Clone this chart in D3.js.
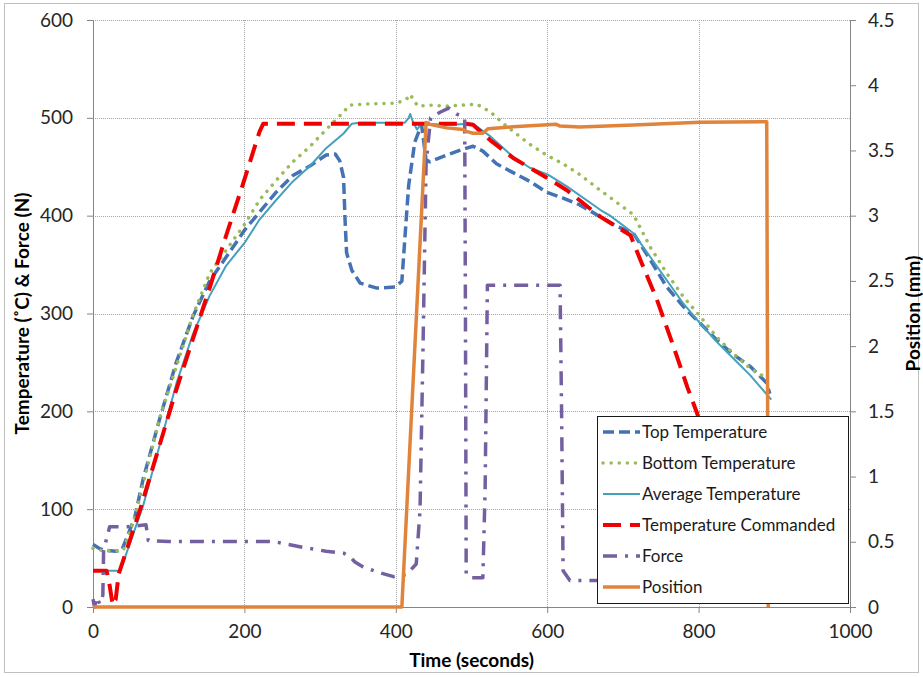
<!DOCTYPE html>
<html>
<head>
<meta charset="utf-8">
<script src="https://cdn.jsdelivr.net/npm/d3@7/dist/d3.min.js"></script>
<style>
  html, body { margin: 0; padding: 0; background: #fff; }
  svg { display: block; }
  text { font-family: Lato, "Open Sans", sans-serif; }
</style>
</head>
<body>
<svg id="chart" width="923" height="677"></svg>
<script>
// ---------- data (time in seconds, value) ----------
const topTemperature = [
  [0,64],[8,60],[15,58],[30,57],[38,58],[55,91],[66,130],[88,192],[110,250],[132,297],[154,333],
  [201,386],[242,424],[264,441],[287,451],[308,462],[320,463],[326,456],[331,439],[333,395],
  [335,362],[342,344],[353,331],[375,326],[399,327],[408,333],[412,377],[417,431],[425,475],
  [434,493],[440,457],[445,455],[467,462],[489,468],[502,471],[515,466],[533,453],[555,444],
  [577,435],[599,424],[621,418],[643,411],[670,399],[692,389],[714,382],[736,355],[758,327],
  [780,307],[802,290],[824,273],[846,258],[868,246],[890,229],[894,218]
];
const bottomTemperature = [
  [0,60],[10,58],[30,57],[40,58],[55,91],[88,193],[132,298],[154,341],[201,392],[220,416],
  [242,436],[264,455],[287,471],[308,488],[331,506],[339,513],[357,514],[401,515],[414,519],
  [419,524],[423,519],[429,512],[445,513],[467,512],[489,513],[507,514],[525,506],[544,493],
  [562,482],[577,473],[599,462],[621,453],[643,442],[670,426],[714,401],[736,368],[758,341],
  [780,317],[802,297],[824,276],[846,259],[868,244],[890,234]
];
const averageTemperature = [
  [0,37],[36,37],[66,103],[88,165],[110,228],[132,279],[154,318],[176,349],[201,373],[220,396],
  [242,416],[264,435],[287,451],[308,469],[331,484],[342,494],[352,495],[412,495],[417,500],
  [419,504],[422,497],[428,488],[432,492],[438,494],[467,493],[502,494],[525,481],[555,460],
  [577,449],[601,442],[626,430],[670,406],[683,400],[714,382],[736,358],[758,334],[780,310],
  [802,290],[824,271],[846,254],[868,237],[896,212]
];
const temperatureCommanded = [
  [0,37],[18,37],[22,22],[26,2],[30,8],[34,34],[62,99],[110,222],[154,326],[176,380],[198,432],
  [220,486],[225,494],[493,494],[502,493],[525,477],[555,459],[577,449],[599,439],[626,426],
  [670,399],[710,380],[723,355],[745,314],[767,266],[785,225],[798,198],[805,180]
];
const force = [
  [0,8],[2,0],[5,10],[9,3],[13,12],[14,58],[18,70],[22,82],[45,82],[70,84],[73,68],[100,67],
  [238,67],[277,61],[308,57],[331,55],[339,52],[346,46],[357,41],[379,35],[397,31],[414,33],
  [427,44],[432,99],[436,267],[440,453],[446,500],[459,506],[470,510],[480,504],[491,500],
  [492,300],[493,33],[500,30],[515,30],[518,120],[521,329],[617,329],[619,200],[621,37],
  [630,27],[680,27]
];
const position = [
  [0,0],[408,0],[440,3.714],[445,3.70],[467,3.673],[489,3.66],[493,3.646],[502,3.632],
  [515,3.632],[522,3.667],[555,3.681],[612,3.70],[617,3.687],[643,3.68],[714,3.695],
  [802,3.716],[890,3.72],[892,0]
];

const xTicks = [0,200,400,600,800,1000];
const yLeftTicks = [0,100,200,300,400,500,600];
const yRightTicks = [0,0.5,1,1.5,2,2.5,3,3.5,4,4.5];
const yRightTickLabels = ["0","0.5","1","1.5","2","2.5","3","3.5","4","4.5"];

const seriesNames = ["Top Temperature","Bottom Temperature","Average Temperature","Temperature Commanded","Force","Position"];

// ---------- styles ----------
const styles = {
  "Top Temperature":       {color:"#4472B4", width:3.5, dash:"11,5", cap:"butt"},
  "Bottom Temperature":    {color:"#9BBB59", width:3.5, dash:"0.1,8", cap:"round"},
  "Average Temperature":   {color:"#45A0BC", width:2,   dash:null,   cap:"butt"},
  "Temperature Commanded": {color:"#F00000", width:4,   dash:"18,9", cap:"butt"},
  "Force":                 {color:"#7460A0", width:3.5, dash:"14,8,3,8", cap:"butt"},
  "Position":              {color:"#E0843C", width:3.5, dash:null,   cap:"butt"}
};

const svg = d3.select("#chart");
const L = 93, R = 850, T = 20, B = 607;
const x = d3.scaleLinear().domain([0,1000]).range([L,R]);
const yL = d3.scaleLinear().domain([0,600]).range([B,T]);
const yR = d3.scaleLinear().domain([0,4.5]).range([B,T]);

// outer border
svg.append("rect").attr("x",4.5).attr("y",3.5).attr("width",914).attr("height",669)
  .attr("fill","#fff").attr("stroke","#C0C0C0").attr("stroke-width",1);

// gridlines
const grid = svg.append("g");
grid.selectAll("line.h").data(yLeftTicks.filter(d=>d>0)).join("line")
  .attr("x1",L).attr("x2",R).attr("y1",d=>Math.round(yL(d))+0.5).attr("y2",d=>Math.round(yL(d))+0.5)
  .attr("stroke","#A6A6A6").attr("stroke-width",1).attr("stroke-dasharray","1,1");
grid.selectAll("line.v").data(xTicks.filter(d=>d>0 && d<1000)).join("line")
  .attr("y1",T).attr("y2",B).attr("x1",d=>Math.round(x(d))+0.5).attr("x2",d=>Math.round(x(d))+0.5)
  .attr("stroke","#A6A6A6").attr("stroke-width",1).attr("stroke-dasharray","1,1");

// axes
const axisColor = "#868686";
const fontSize = 19;
const gx = svg.append("g").attr("transform",`translate(0,${B})`)
  .call(d3.axisBottom(x).tickValues(xTicks).tickSize(6).tickPadding(12).tickFormat(d3.format("d")));
const gyl = svg.append("g").attr("transform",`translate(${L},0)`)
  .call(d3.axisLeft(yL).tickValues(yLeftTicks).tickSize(6).tickPadding(14).tickFormat(d3.format("d")));
const gyr = svg.append("g").attr("transform",`translate(${R},0)`)
  .call(d3.axisRight(yR).tickValues(yRightTicks).tickSize(6).tickPadding(12).tickFormat((d,i)=>yRightTickLabels[i]));
[gx,gyl,gyr].forEach(g=>{
  g.select(".domain").attr("stroke",axisColor).attr("stroke-width",1);
  g.selectAll(".tick line").attr("stroke",axisColor);
  g.selectAll("text").attr("font-size",fontSize).attr("fill","#262626")
    .attr("font-family","Lato, 'Open Sans', sans-serif");
});

// series lines
const lineL = d3.line().x(d=>x(d[0])).y(d=>yL(d[1]));
const lineR = d3.line().x(d=>x(d[0])).y(d=>yR(d[1]));
const data = {
  "Top Temperature": topTemperature,
  "Bottom Temperature": bottomTemperature,
  "Average Temperature": averageTemperature,
  "Temperature Commanded": temperatureCommanded,
  "Force": force,
  "Position": position
};
const plot = svg.append("g");
seriesNames.forEach(name=>{
  const s = styles[name];
  plot.append("path").datum(data[name])
    .attr("d", name==="Position" ? lineR : lineL)
    .attr("fill","none").attr("stroke",s.color).attr("stroke-width",s.width)
    .attr("stroke-dasharray",s.dash).attr("stroke-linecap",s.cap).attr("stroke-linejoin","round");
});

// axis titles
svg.append("text").attr("transform",`translate(29,${(T+B)/2}) rotate(-90)`)
  .attr("text-anchor","middle").attr("font-size",19).attr("font-weight","bold").attr("fill","#000")
  .text("Temperature (˚C) & Force (N)");
svg.append("text").attr("transform",`translate(920,${(T+B)/2}) rotate(-90)`)
  .attr("text-anchor","middle").attr("font-size",19).attr("font-weight","bold").attr("fill","#000")
  .text("Position (mm)");
svg.append("text").attr("x",(L+R)/2).attr("y",667)
  .attr("text-anchor","middle").attr("font-size",19).attr("font-weight","bold").attr("fill","#000")
  .text("Time (seconds)");

// legend
const lg = svg.append("g");
lg.append("rect").attr("x",597.5).attr("y",416.5).attr("width",251).attr("height",187)
  .attr("fill","#fff").attr("stroke","#1a1a1a").attr("stroke-width",1);
seriesNames.forEach((name,i)=>{
  const s = styles[name];
  const yy = 432 + i*31;
  lg.append("line").attr("x1",603).attr("x2",640).attr("y1",yy).attr("y2",yy)
    .attr("stroke",s.color).attr("stroke-width",s.width).attr("stroke-dasharray",s.dash)
    .attr("stroke-linecap",s.cap);
  lg.append("text").attr("x",642).attr("y",yy).attr("dy","0.35em")
    .attr("font-size",17).attr("fill","#1a1a1a").text(name);
});
</script>
</body>
</html>
